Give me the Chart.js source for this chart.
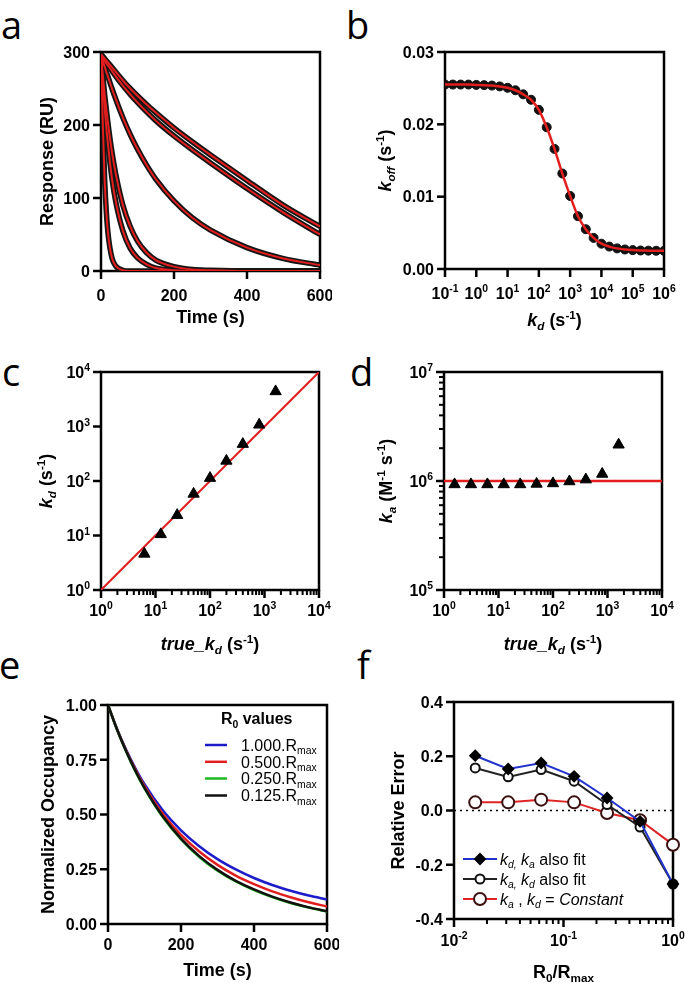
<!DOCTYPE html>
<html>
<head>
<meta charset="utf-8">
<script src="https://cdn.jsdelivr.net/npm/chart.js@4.4.0/dist/chart.umd.min.js"></script>
<style>
  body { margin: 0; background: #fff; overflow: hidden; }
  #fig { position: relative; width: 685px; height: 983px; }
  #fig canvas { position: absolute; }
  .lbl { position: absolute; font: 38px 'Open Sans', sans-serif; line-height: 38px; color: #000; }
</style>
</head>
<body>
<div id="fig">
  <div class="lbl" style="left:1px;top:5px">a</div>
  <div class="lbl" style="left:346px;top:5px">b</div>
  <div class="lbl" style="left:2px;top:352px">c</div>
  <div class="lbl" style="left:350px;top:352px">d</div>
  <div class="lbl" style="left:-1px;top:645px">e</div>
  <div class="lbl" style="left:357px;top:645px">f</div>
</div>
<script>
// a: dissociation curves (RU) against time (s)
const aTime   = [0, 5, 10, 15, 20, 30, 40, 60, 80, 100, 125, 150, 200, 250, 300, 400, 500, 600];
const aCurve1 = [297, 294, 291, 288, 285, 279, 273, 261, 250, 240, 228, 217, 196, 177, 159, 124, 90, 61];
const aCurve2 = [296, 292, 288, 284, 281, 274, 267, 254, 242, 231, 218, 206, 185, 166, 148, 113, 80, 50];
const aCurve3 = [296, 288, 280, 272, 265, 250, 236, 210, 187, 167, 145, 126, 96, 73, 56, 32, 17, 8];
const aCurve4 = [296, 268, 242, 220, 199, 163, 134, 90, 61, 41, 25, 15, 6, 2, 1, 0, 0, 0];
const aCurve5 = [296, 257, 223, 194, 169, 127, 96, 55, 31, 18, 9, 4, 1, 0, 0, 0, 0, 0];
const aCurve6 = [296, 200, 125, 78, 48, 18, 7, 1, 0, 0, 0, 0, 0, 0, 0, 0, 0, 0];

// b: apparent koff against kd
const bKd   = [0.1, 0.178, 0.316, 0.562, 1, 1.78, 3.16, 5.62, 10, 17.8, 31.6, 56.2, 100, 178, 316, 562,
               1000, 1778, 3162, 5623, 1e4, 17783, 31623, 56234, 1e5, 1.78e5, 3.16e5, 5.62e5, 1e6];
const bKoff = [0.0255, 0.0255, 0.0255, 0.0255, 0.02545, 0.02542, 0.02536, 0.02524, 0.02505, 0.02471,
               0.02415, 0.0234, 0.0220, 0.0196, 0.0166, 0.0132, 0.0101, 0.0073, 0.0055, 0.0043,
               0.0035, 0.0031, 0.00285, 0.0027, 0.00261, 0.00256, 0.00254, 0.00252, 0.00251];

// c: fitted kd against true kd
const cTrueKd = [6.25, 12.5, 25, 50, 100, 200, 400, 800, 1600];
const cKd     = [4.6, 10.5, 23.6, 58, 113, 234, 475, 1075, 4400];
const cIdentity = [1, 10000];

// d: fitted ka against true kd
const dTrueKd = [1.5625, 3.125, 6.25, 12.5, 25, 50, 100, 200, 400, 800, 1600];
const dKa     = [0.93e6, 0.93e6, 0.93e6, 0.93e6, 0.93e6, 0.94e6, 0.95e6, 0.99e6, 1.03e6, 1.16e6, 2.15e6];
const dKaTrue = 1e6;
const dRange  = [1, 10000];

// e: normalized occupancy for several R0 values
const eTime  = [0, 25, 50, 75, 100, 150, 200, 250, 300, 350, 400, 450, 500, 550, 600];
const eR1000 = [1, 0.889, 0.794, 0.711, 0.638, 0.519, 0.428, 0.355, 0.296, 0.249, 0.210, 0.178, 0.152, 0.130, 0.112];
const eR0500 = [1, 0.888, 0.791, 0.705, 0.629, 0.503, 0.407, 0.331, 0.270, 0.221, 0.182, 0.149, 0.122, 0.099, 0.080];
const eR0250 = [1, 0.886, 0.786, 0.697, 0.619, 0.488, 0.386, 0.306, 0.243, 0.194, 0.155, 0.123, 0.096, 0.075, 0.057];
const eR0125 = [1, 0.887, 0.788, 0.700, 0.622, 0.492, 0.390, 0.310, 0.247, 0.197, 0.158, 0.125, 0.098, 0.076, 0.058];

// f: relative error against R0/Rmax
const fRatio    = [0.015625, 0.03125, 0.0625, 0.125, 0.25, 0.5, 1];
const fKdKaFit  = [0.202, 0.153, 0.175, 0.126, 0.046, -0.040, -0.271];
const fKaKdFit  = [0.157, 0.124, 0.151, 0.108, 0.022, -0.061, -0.271];
const fConstant = [0.030, 0.030, 0.040, 0.030, -0.009, -0.036, -0.126];
const fZero     = [0.01, 1];

const FAMILY = "'Liberation Sans', Arial, sans-serif";
Chart.defaults.font.family = FAMILY;
Chart.defaults.color = '#000';
const RED = '#e31e1e';

const xy = (xs, ys) => xs.map((x, i) => ({ x: x, y: ys[i] }));

// text runs: [text, flags]; flags b=bold i=italic _=sub ^=sup
function drawRich(ctx, runs, cx, cy, size, vertical, align) {
  ctx.save();
  ctx.translate(cx, cy);
  if (vertical) ctx.rotate(-Math.PI / 2);
  const parts = runs.map(([t, f = '']) => {
    const small = f.includes('_') || f.includes('^');
    const font = (f.includes('i') ? 'italic ' : '') + (f.includes('b') ? 'bold ' : '') +
                 (small ? size * 0.65 : size) + 'px ' + FAMILY;
    ctx.font = font;
    return { t, font, w: ctx.measureText(t).width,
             dy: f.includes('_') ? size * 0.22 : f.includes('^') ? -size * 0.42 : 0 };
  });
  const total = parts.reduce((s, p) => s + p.w, 0);
  let x = align === 'left' ? 0 : align === 'right' ? -total : -total / 2;
  ctx.fillStyle = '#000';
  ctx.textBaseline = 'alphabetic';
  parts.forEach(p => { ctx.font = p.font; ctx.fillText(p.t, x, size * 0.36 + p.dy); x += p.w; });
  ctx.restore();
}

function drawMarker(ctx, style, r, x, y, fill, stroke, lw) {
  ctx.beginPath();
  if (style === 'rectRot') {
    ctx.moveTo(x, y - r); ctx.lineTo(x + r, y); ctx.lineTo(x, y + r); ctx.lineTo(x - r, y); ctx.closePath();
  } else {
    ctx.arc(x, y, r, 0, Math.PI * 2);
  }
  ctx.fillStyle = fill; ctx.fill();
  ctx.lineWidth = lw; ctx.strokeStyle = stroke; ctx.stroke();
}

const extras = {};

// box, outward tick marks and tick labels (from the scales' own ticks), axis titles, legends
Chart.register({
  id: 'panelDecor',
  beforeDatasetsDraw(chart) {
    const ctx = chart.ctx, a = chart.chartArea;
    ctx.save();
    ctx.strokeStyle = '#000';
    ctx.lineWidth = 2.5;
    ctx.strokeRect(a.left, a.top, a.right - a.left, a.bottom - a.top);
    ctx.restore();
  },
  afterDraw(chart) {
    const ex = extras[chart.canvas.id], ctx = chart.ctx, a = chart.chartArea;
    Object.values(chart.scales).forEach(s => {
      const log = s.type === 'logarithmic';
      s.ticks.forEach(t => {
        const p = s.getPixelForValue(t.value);
        const len = t.isMinor ? 5 : 8;
        ctx.save();
        ctx.strokeStyle = '#000';
        ctx.lineWidth = t.isMinor ? 2 : 2.5;
        ctx.beginPath();
        if (s.isHorizontal()) { ctx.moveTo(p, a.bottom); ctx.lineTo(p, a.bottom + len); }
        else { ctx.moveTo(a.left, p); ctx.lineTo(a.left - len, p); }
        ctx.stroke();
        ctx.restore();
        if (t.isMinor) return;
        const runs = log ? [['10', 'b'], [String(Math.round(Math.log10(t.value))), 'b^']]
                         : [[s.options.ticks.callback(t.value), 'b']];
        if (s.isHorizontal()) drawRich(ctx, runs, p, a.bottom + ex.xLab, 16, false);
        else drawRich(ctx, runs, a.left - 11, p, 16, false, 'right');
      });
    });
    drawRich(ctx, ex.xTitle, (a.left + a.right) / 2, a.bottom + ex.xOff, 18, false);
    drawRich(ctx, ex.yTitle, a.left - ex.yOff, (a.top + a.bottom) / 2, 18, true);
    if (ex.legend) ex.legend(ctx, a, chart);
  }
});

const grid = { display: false };
// fixed axis boxes so every plot area lands where the figure has it
const fitY = s => { s.width = 90; s.paddingTop = s.paddingBottom = 0; };
const fitX = s => { s.height = 70; s.paddingLeft = s.paddingRight = 0; };

function linAxis(pos, min, max, step, dec) {
  return { type: 'linear', position: pos, min: min, max: max,
    ticks: { display: false, stepSize: step, autoSkip: false, callback: v => (+v).toFixed(dec) },
    grid: grid, border: { display: false }, afterFit: pos === 'left' ? fitY : fitX };
}
function logAxis(pos, e0, e1, minor) {
  return { type: 'logarithmic', position: pos, min: Math.pow(10, e0), max: Math.pow(10, e1),
    afterBuildTicks: s => {
      const t = [];
      for (let e = e0; e <= e1; e++) {
        t.push({ value: Math.pow(10, e) });
        if (minor && e < e1) for (let k = 2; k < 10; k++) t.push({ value: k * Math.pow(10, e), isMinor: true });
      }
      s.ticks = t.sort((p, q) => p.value - q.value);
    },
    ticks: { display: false, autoSkip: false },
    grid: grid, border: { display: false }, afterFit: pos === 'left' ? fitY : fitX };
}

function panel(id, rect, datasets, scales) {
  const [L, T, R, B] = rect;
  const cv = document.createElement('canvas');
  cv.id = id;
  cv.width = R - L + 102;
  cv.height = B - T + 90;
  cv.style.left = (L - 90) + 'px';
  cv.style.top = (T - 20) + 'px';
  document.getElementById('fig').appendChild(cv);
  return new Chart(cv, {
    type: 'line',
    data: { datasets: datasets },
    options: {
      responsive: false,
      animation: false,
      layout: { padding: { left: 0, right: 12, top: 20, bottom: 0 }, autoPadding: false },
      plugins: { legend: { display: false }, tooltip: { enabled: false } },
      elements: { point: { radius: 0 } },
      scales: scales
    }
  });
}

const kInv = [[' (s', 'b'], ['-1', 'b^'], [')', 'b']];

// ---- a ----
const aCurves = [aCurve1, aCurve2, aCurve3, aCurve4, aCurve5, aCurve6];
const aSets = [];
aCurves.forEach(c => aSets.push({ data: xy(aTime, c), borderColor: RED, borderWidth: 2, order: 1, cubicInterpolationMode: 'monotone' }));
aCurves.forEach(c => aSets.push({ data: xy(aTime, c), borderColor: '#151515', borderWidth: 5.5, order: 2, cubicInterpolationMode: 'monotone' }));
extras.pa = { xTitle: [['Time (s)', 'b']], xOff: 46, xLab: 24, yTitle: [['Response (RU)', 'b']], yOff: 54 };
panel('pa', [101, 52, 320, 271], aSets, { x: linAxis('bottom', 0, 600, 200, 0), y: linAxis('left', 0, 300, 100, 0) });

// ---- b ----
extras.pb = { xTitle: [['k', 'bi'], ['d', 'bi_']].concat(kInv), xOff: 51, xLab: 24,
              yTitle: [['k', 'bi'], ['off', 'bi_']].concat(kInv), yOff: 60 };
panel('pb', [445, 52, 664, 269], [
  { data: xy(bKd, bKoff), borderColor: RED, borderWidth: 2.5, order: 1, cubicInterpolationMode: 'monotone' },
  { data: xy(bKd, bKoff), showLine: false, pointRadius: 4.5, pointBackgroundColor: '#111', pointBorderColor: '#111', order: 2 }
], { x: logAxis('bottom', -1, 6, false), y: linAxis('left', 0, 0.03, 0.01, 2) });

// ---- c ----
const trueKdTitle = [['true_', 'bi'], ['k', 'bi'], ['d', 'bi_']].concat(kInv);
extras.pc = { xTitle: trueKdTitle, xOff: 54, xLab: 20, yTitle: [['k', 'bi'], ['d', 'bi_']].concat(kInv), yOff: 55 };
panel('pc', [101, 372, 319, 590], [
  { data: xy(cTrueKd, cKd), showLine: false, pointStyle: 'triangle', pointRadius: 6.5, pointBackgroundColor: '#000', pointBorderColor: '#000', order: 1 },
  { data: xy(cIdentity, cIdentity), borderColor: RED, borderWidth: 2, order: 2 }
], { x: logAxis('bottom', 0, 4, true), y: logAxis('left', 0, 4, false) });

// ---- d ----
extras.pd = { xTitle: trueKdTitle, xOff: 54, xLab: 20,
              yTitle: [['k', 'bi'], ['a', 'bi_'], [' (M', 'b'], ['-1', 'b^'], [' s', 'b'], ['-1', 'b^'], [')', 'b']], yOff: 58 };
panel('pd', [444, 372, 662, 590], [
  { data: xy(dTrueKd, dKa), showLine: false, pointStyle: 'triangle', pointRadius: 6.5, pointBackgroundColor: '#000', pointBorderColor: '#000', order: 1 },
  { data: xy(dRange, dRange.map(() => dKaTrue)), borderColor: RED, borderWidth: 2.5, order: 2 }
], { x: logAxis('bottom', 0, 4, true), y: logAxis('left', 5, 7, true) });

// ---- e ----
const eSeries = [
  { v: eR1000, c: '#1c1cc8', name: '1.000.R', order: 4 },
  { v: eR0500, c: '#e02020', name: '0.500.R', order: 3 },
  { v: eR0250, c: '#20b820', name: '0.250.R', order: 2 },
  { v: eR0125, c: '#111111', name: '0.125.R', order: 1 }
];
extras.pe = {
  xTitle: [['Time (s)', 'b']], xOff: 46, xLab: 20, yTitle: [['Normalized Occupancy', 'b']], yOff: 60.5,
  legend(ctx, a) {
    drawRich(ctx, [['R', 'b'], ['0', 'b_'], [' values', 'b']], a.left + 148.7, a.top + 13.5, 16, false);
    const rows = [40, 56.8, 73.5, 90.5];
    eSeries.forEach((s, i) => {
      const y = a.top + rows[i];
      ctx.save();
      ctx.strokeStyle = s.c; ctx.lineWidth = 2.5;
      ctx.beginPath(); ctx.moveTo(a.left + 97, y); ctx.lineTo(a.left + 119, y); ctx.stroke();
      ctx.restore();
      drawRich(ctx, [[s.name, ''], ['max', '_']], a.left + 133, y, 16, false, 'left');
    });
  }
};
panel('pe', [108, 705, 327, 924], eSeries.map(s => ({
  data: xy(eTime, s.v), borderColor: s.c, borderWidth: 2.5, order: s.order, cubicInterpolationMode: 'monotone'
})), { x: linAxis('bottom', 0, 600, 200, 0), y: linAxis('left', 0, 1, 0.25, 2) });

// ---- f ----
const fSeries = [
  { v: fKdKaFit, line: '#2233cc', style: 'rectRot', r: 5, fill: '#000', stroke: '#000',
    text: [['k', 'i'], ['d,', 'i_'], [' ', ''], ['k', 'i'], ['a', 'i_'], [' also fit', '']] },
  { v: fKaKdFit, line: '#222222', style: 'circle', r: 4.5, fill: '#fff', stroke: '#111',
    text: [['k', 'i'], ['a,', 'i_'], [' ', ''], ['k', 'i'], ['d', 'i_'], [' also fit', '']] },
  { v: fConstant, line: '#e02424', style: 'circle', r: 6, fill: '#fff', stroke: '#3a1010',
    text: [['k', 'i'], ['a', 'i_'], [' , ', ''], ['k', 'i'], ['d', 'i_'], [' = ', ''], ['Constant', 'i']] }
];
extras.pf = {
  xTitle: [['R', 'b'], ['0', 'b_'], ['/R', 'b'], ['max', 'b_']], xOff: 53, xLab: 21,
  yTitle: [['Relative Error', 'b']], yOff: 56.5,
  legend(ctx, a) {
    const rows = [157, 177, 197];
    fSeries.forEach((s, i) => {
      const y = a.top + rows[i];
      ctx.save();
      ctx.strokeStyle = s.line; ctx.lineWidth = 2;
      ctx.beginPath(); ctx.moveTo(a.left + 9, y); ctx.lineTo(a.left + 43, y); ctx.stroke();
      drawMarker(ctx, s.style, s.r, a.left + 26, y, s.fill, s.stroke, 2);
      ctx.restore();
      drawRich(ctx, s.text, a.left + 46, y, 16, false, 'left');
    });
  }
};
const fSets = fSeries.map((s, i) => ({
  data: xy(fRatio, s.v), borderColor: s.line, borderWidth: 2, order: i + 1, clip: false,
  pointStyle: s.style, pointRadius: s.r, pointBackgroundColor: s.fill, pointBorderColor: s.stroke, pointBorderWidth: 2
}));
fSets.push({ data: xy(fZero, fZero.map(() => 0)), borderColor: '#000', borderWidth: 1.6, borderDash: [2, 4], order: 9 });
panel('pf', [454, 702, 673, 919], fSets, { x: logAxis('bottom', -2, 0, true), y: linAxis('left', -0.4, 0.4, 0.2, 1) });
</script>
</body>
</html>
